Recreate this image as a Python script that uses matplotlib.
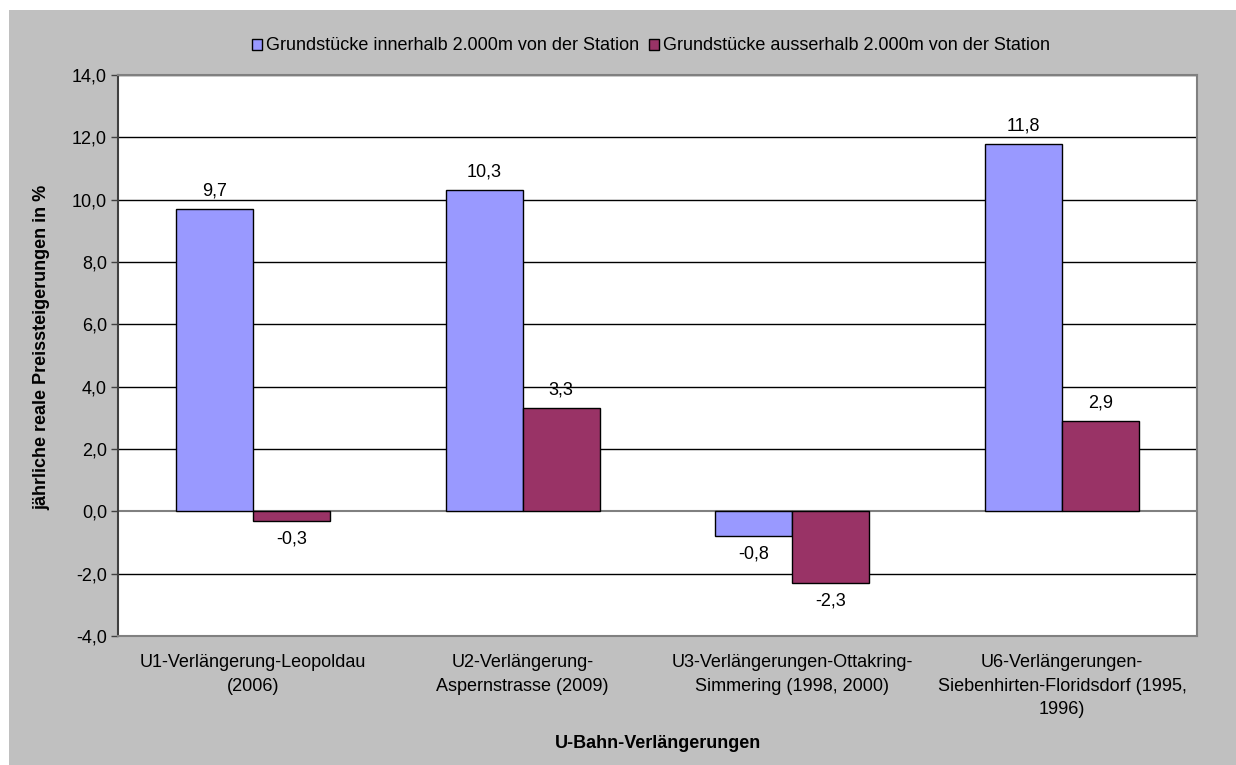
import matplotlib.pyplot as plt
import numpy as np
from matplotlib.patches import Rectangle, Patch

plt.rcParams['font.family'] = ['Liberation Sans', 'DejaVu Sans']

kategorien = ["U1-Verlängerung-Leopoldau\n(2006)",
              "U2-Verlängerung-\nAspernstrasse (2009)",
              "U3-Verlängerungen-Ottakring-\nSimmering (1998, 2000)",
              "U6-Verlängerungen-\nSiebenhirten-Floridsdorf (1995,\n1996)"]
innerhalb = [9.7, 10.3, -0.8, 11.8]
ausserhalb = [-0.3, 3.3, -2.3, 2.9]
serien = ["Grundstücke innerhalb 2.000m von der Station",
          "Grundstücke ausserhalb 2.000m von der Station"]
farben = ["#9999FF", "#993366"]
fs = 13

W, H = 1236, 765
fig = plt.figure(figsize=(W / 100, H / 100), dpi=100)
fig.patch.set_facecolor('white')
fig.patches.append(Rectangle((9 / W, 0), 1 - 9 / W, (H - 10) / H,
                             transform=fig.transFigure, facecolor='#C0C0C0',
                             edgecolor='none', zorder=-10))

ax = fig.add_axes([118 / W, (H - 636) / H, (1197 - 118) / W, (636 - 75) / H])
ax.set_facecolor('white')

x = np.arange(len(kategorien))
bw = 1 / 3.5
for i, (werte, farbe, name) in enumerate(zip([innerhalb, ausserhalb], farben, serien)):
    pos = x + (i - 0.5) * bw
    ax.bar(pos, werte, width=bw, color=farbe, edgecolor='black', linewidth=1, zorder=3, label=name)
    for p, v in zip(pos, werte):
        off = 13 if v >= 0 else -13
        ax.annotate(f"{v:.1f}".replace('.', ','), (p, v), xytext=(0, off),
                    textcoords='offset points', ha='center', va='center', fontsize=fs)

ax.set_xlim(-0.5, len(kategorien) - 0.5)
ax.set_ylim(-4, 14)
ax.set_yticks(np.arange(-4, 15, 2))
ax.set_yticklabels([f"{t:.1f}".replace('.', ',') for t in np.arange(-4, 15, 2)], fontsize=fs)
for t in np.arange(-2, 15, 2):
    if t != 0:
        ax.axhline(t, color='black', linewidth=1, zorder=1)
ax.axhline(0, color='#808080', linewidth=1.5, zorder=2)

ax.set_xticks(x)
ax.set_xticklabels(kategorien, fontsize=fs, linespacing=1.5)
ax.tick_params(axis='x', length=0, pad=13)
ax.tick_params(axis='y', direction='out', length=5, width=1, color='#404040', pad=3)

for s in ['top', 'right', 'bottom']:
    ax.spines[s].set_color('#808080')
    ax.spines[s].set_linewidth(1.5)
ax.spines['left'].set_color('#404040')
ax.spines['left'].set_linewidth(1.5)

ax.set_ylabel("jährliche reale Preissteigerungen in %", fontsize=fs, fontweight='bold')
ax.yaxis.set_label_coords(-0.063, 0.515)
ax.set_xlabel("U-Bahn-Verlängerungen", fontsize=fs, fontweight='bold', labelpad=12)

handles = [Patch(facecolor=f, edgecolor='black', linewidth=1) for f in farben]
fig.legend(handles, serien, loc='center', bbox_to_anchor=(651 / W, 1 - 46 / H), ncol=2,
           frameon=False, fontsize=fs, handlelength=0.55, handleheight=0.55,
           handletextpad=0.2, columnspacing=0.6)

fig.savefig('out.png', dpi=100)
